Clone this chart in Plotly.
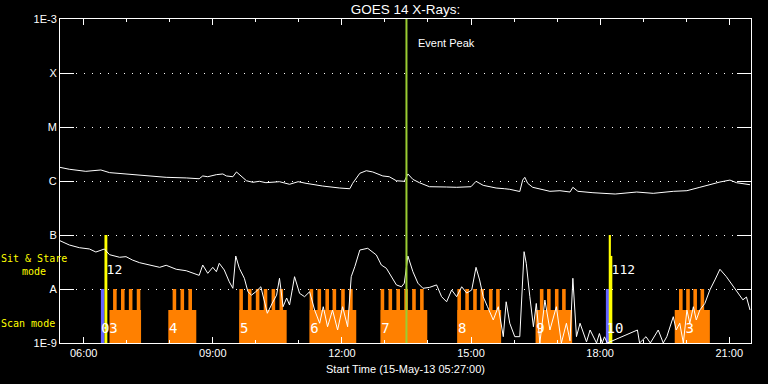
import plotly.graph_objects as go
from datetime import datetime, timedelta

DAY = "2013-05-15 "

# ---- GOES long channel (1-8 A), W/m^2 in units of 1e-6
upper_t = ["05:27","05:40","06:03","06:24","06:36","06:59","07:27","07:55","08:23","08:41",
           "08:46","08:53","09:05","09:14","09:19","09:28","09:33","09:40","09:47","09:56",
           "10:05","10:14","10:33","10:47","10:59","11:10","11:33","11:57","12:11","12:15",
           "12:25","12:34","12:43","12:57","13:06","13:16","13:27","13:32","13:39","13:48",
           "14:02","14:26","14:40","15:00","15:07","15:17","15:35","15:47","15:54","16:08",
           "16:12","16:15","16:19","16:26","16:36","16:50","17:04","17:18","17:22","17:29",
           "17:50","18:21","18:51","19:14","19:42","20:01","20:19","20:38","20:47","21:01",
           "21:10","21:29"]
upper_v = [1.79,1.65,1.51,1.60,1.43,1.35,1.25,1.17,1.14,1.10,
           1.24,1.20,1.31,1.35,1.24,1.20,1.47,1.24,1.01,0.946,
           0.987,0.931,0.971,0.869,0.971,0.906,0.807,0.741,0.719,0.906,
           1.39,1.55,1.47,1.24,1.20,1.01,0.987,1.35,1.07,0.931,
           0.784,0.774,0.764,0.784,0.987,0.831,0.741,0.719,0.702,0.639,
           1.04,1.17,0.906,0.764,0.702,0.644,0.661,0.625,0.764,0.644,
           0.607,0.574,0.625,0.591,0.644,0.661,0.764,0.906,0.957,1.04,
           0.931,0.853]

# ---- GOES short channel (0.5-4 A), units of 1e-9
lower_t = ["05:27","05:40","05:54","06:08","06:17","06:29","06:36","06:50","06:59","07:08",
           "07:18","07:32","07:46","07:55","08:09","08:23","08:32","08:41","08:46","08:53",
           "09:00","09:05","09:09","09:16","09:23","09:28","09:32","09:37","09:44","09:49",
           "09:54","10:00","10:07","10:14","10:16","10:23","10:29","10:33","10:38","10:43",
           "10:47","10:54","11:01","11:08","11:15","11:22","11:29","11:34","11:40","11:47",
           "11:54","12:01","12:08","12:13","12:18","12:25","12:36","12:48","12:55","13:02",
           "13:09","13:16","13:23","13:27","13:32","13:39","13:46","13:53","14:02","14:12",
           "14:19","14:26","14:33","14:40","14:47","14:54","15:01","15:07","15:12","15:17",
           "15:23","15:31","15:38","15:45","15:49","15:54","16:01","16:08","16:14","16:17",
           "16:22","16:27","16:31","16:36","16:43","16:50","16:59","17:06","17:13","17:18",
           "17:22","17:27","17:32","17:41","17:46","17:55","17:59","18:03","18:06","18:10",
           "18:52","18:55","19:04","19:10","19:21","19:28","19:33","19:42","19:46","19:51",
           "19:56","20:01","20:05","20:10","20:14","20:19","20:26","20:33","20:40","20:47",
           "20:56","21:06","21:10","21:15","21:19","21:24","21:29"]
lower_v = [78.3,65.3,58.2,55.1,48.4,55.1,43.2,38.7,39.7,34.4,
           30.7,27.8,25.2,27.5,23.2,21.8,19.5,17.9,27.8,19.5,
           25.2,20.9,29.9,22.5,13.6,10.3,40.8,24.2,15.8,8.9,
           7.7,8.9,11.0,4.7,3.55,5.5,7.7,15.8,4.7,6.8,
           5.06,16.9,8.3,7.2,8.9,4.08,2.32,4.7,2.0,4.08,
           1.74,4.7,2.0,16.9,25.9,52.7,56.7,42.7,27.8,24.2,
           16.9,11.9,11.0,12.8,40.8,20.9,12.8,10.3,10.7,11.9,
           7.2,5.8,9.6,7.2,11.0,8.4,9.6,25.2,14.7,7.2,
           4.7,2.67,4.7,1.31,5.8,2.32,1.31,1.31,49.1,29.9,
           7.2,2.0,5.4,1.0,6.25,1.74,4.7,1.0,2.32,1.1,
           15.8,1.31,2.32,1.05,1.74,1.0,1.5,1.0,1.3,1.0,
           1.74,1.0,1.31,1.0,1.74,1.0,1.31,3.07,1.74,2.32,
           1.0,4.08,2.32,4.7,2.67,4.08,5.4,9.6,14.7,23.2,
           16.9,11.0,8.8,7.2,6.3,7.1,4.08]

# ---- observation timeline
scan_start = ["06:36","07:58","09:37","11:15","12:54","14:41","16:30","19:44"]
scan_end   = ["07:20","08:37","10:43","12:20","13:59","15:42","17:21","20:33"]
scan_teeth = [["06:41","06:52","07:03","07:14"],
              ["08:04","08:15","08:26"],
              ["09:37","09:49","10:00","10:11","10:22","10:33"],
              ["11:15","11:26","11:37","11:47","11:59","12:10"],
              ["12:54","13:05","13:16","13:27","13:38","13:49"],
              ["14:41","14:52","15:03","15:13","15:25","15:35"],
              ["16:36","16:46","16:57","17:07"],
              ["19:50","20:00","20:10","20:20"]]
tooth_minutes = 5
scan_low_top = 4.1e-9
scan_full_top = 1e-8

blue_start = ["06:24","18:08"]
blue_end   = ["06:29","18:13"]
sit_start = ["06:29","18:12","18:15"]
sit_end   = ["06:33","18:15","18:17"]
sit_top   = [1e-7, 1e-7, 4.1e-8]

scan_labels   = ["03","4","5","6","7","8","9","10","3"]
scan_label_t  = ["06:24","07:59","09:38","11:16","12:55","14:42","16:31","18:09","19:59"]
scan_label_y  = 1.75e-9
sit_labels    = ["12","112"]
sit_label_t   = ["06:32","18:16"]
sit_label_y   = 2.15e-8

peak_time = "13:30"
x_start, x_end = "05:27", "21:30:20"

y_ticks = [1e-9,1e-8,1e-7,1e-6,1e-5,1e-4,1e-3]
y_text  = ["1E-9","A","B","C","M","X","1E-3"]

ORANGE = "#ff8000"
BLUE = "#6464ff"
YELLOW = "#ffff00"
GREEN = "#9acd32"
FONT = "Liberation Sans"
MONO = "DejaVu Sans Mono"


def T(s):
    fmt = "%H:%M:%S" if s.count(":") == 2 else "%H:%M"
    return datetime.strptime(DAY + s, "%Y-%m-%d " + fmt)


def bars(starts, ends, tops, color):
    xs, ws, ys = [], [], []
    for s, e, top in zip(starts, ends, tops):
        a, b = T(s), T(e)
        xs.append(a + (b - a) / 2)
        ws.append((b - a).total_seconds() * 1000)
        ys.append(top - 1e-9)
    return go.Bar(x=xs, y=ys, width=ws, base=[1e-9] * len(xs), marker=dict(color=color, line=dict(width=0)),
                  hoverinfo="skip")


fig = go.Figure()

fig.add_trace(bars(scan_start, scan_end, [scan_low_top] * len(scan_start), ORANGE))
t_s, t_e = [], []
for teeth in scan_teeth:
    for s in teeth:
        t_s.append(s)
        t_e.append((T(s) + timedelta(minutes=tooth_minutes)).strftime("%H:%M"))
fig.add_trace(bars(t_s, t_e, [scan_full_top] * len(t_s), ORANGE))
fig.add_trace(bars(blue_start, blue_end, [1e-8] * len(blue_start), BLUE))
fig.add_trace(bars(sit_start, sit_end, sit_top, YELLOW))

fig.add_trace(go.Scatter(x=[T(t) for t in upper_t], y=[v * 1e-6 for v in upper_v], mode="lines",
                         line=dict(color="white", width=1)))
fig.add_trace(go.Scatter(x=[T(t) for t in lower_t], y=[v * 1e-9 for v in lower_v], mode="lines",
                         line=dict(color="white", width=1)))

fig.add_trace(go.Scatter(x=[T(peak_time), T(peak_time)], y=[1e-9, 1e-3], mode="lines",
                         line=dict(color=GREEN, width=2)))

fig.add_trace(go.Scatter(x=[T(t) for t in scan_label_t], y=[scan_label_y] * len(scan_labels),
                         mode="text", text=scan_labels, textposition="middle right",
                         textfont=dict(family=MONO, size=14, color="white")))
fig.add_trace(go.Scatter(x=[T(t) for t in sit_label_t], y=[sit_label_y] * len(sit_labels),
                         mode="text", text=sit_labels, textposition="middle right",
                         textfont=dict(family=MONO, size=13, color="white")))

fig.update_layout(
    width=768, height=384,
    paper_bgcolor="black", plot_bgcolor="black",
    margin=dict(l=60, r=17, t=19, b=41),
    showlegend=False, barmode="overlay",
    font=dict(family=FONT, size=11, color="white"),
    title=dict(text="GOES 14 X-Rays:", x=0.5, xref="paper", xanchor="center",
               y=1 - 9 / 384, yref="container", yanchor="middle",
               font=dict(family=FONT, size=13.5, color="white")),
    xaxis=dict(type="date", range=[T(x_start), T(x_end)], showgrid=False, zeroline=False,
               ticks="inside", ticklen=6, tickwidth=1, tickcolor="white",
               dtick=3 * 3600000, tick0=DAY + "00:00", tickformat="%H:%M",
               showline=True, linecolor="white", linewidth=1, mirror="allticks",
               minor=dict(dtick=3600000, ticklen=3, ticks="inside", tickcolor="white", tickwidth=1, showgrid=False),
               tickfont=dict(family=FONT, size=11, color="white")),
    yaxis=dict(type="log", range=[-9, -3], tickmode="array", tickvals=y_ticks, ticktext=y_text,
               ticks="inside", ticklen=14, tickwidth=1, tickcolor="white",
               showgrid=True, gridcolor="white", gridwidth=1, griddash="1px,7px",
               showline=True, linecolor="white", linewidth=1, mirror="allticks", zeroline=False,
               tickfont=dict(family=FONT, size=11, color="white")),
    annotations=[
        dict(text="Start Time (15-May-13 05:27:00)", xref="paper", yref="paper", x=0.5, y=(343 - 369) / 324,
             xanchor="center", yanchor="middle", showarrow=False, font=dict(family=FONT, size=11, color="white")),
        dict(text="Event Peak", xref="x", yref="paper", x=T(peak_time), xshift=10, y=(343 - 43) / 324,
             xanchor="left", yanchor="middle", showarrow=False, font=dict(family=FONT, size=11, color="white")),
        dict(text="Sit & Stare<br>mode", xref="paper", yref="paper", x=(34 - 60) / 691, y=(343 - 265) / 324,
             xanchor="center", yanchor="middle", showarrow=False, align="center",
             font=dict(family=MONO, size=10, color=YELLOW)),
        dict(text="Scan mode", xref="paper", yref="paper", x=(28 - 60) / 691, y=(343 - 323) / 324,
             xanchor="center", yanchor="middle", showarrow=False,
             font=dict(family=MONO, size=10, color=YELLOW)),
    ],
)

fig.write_html("out.html", config={"displayModeBar": False},
               post_script="document.body.style.margin='0';document.body.style.overflow='hidden';")
